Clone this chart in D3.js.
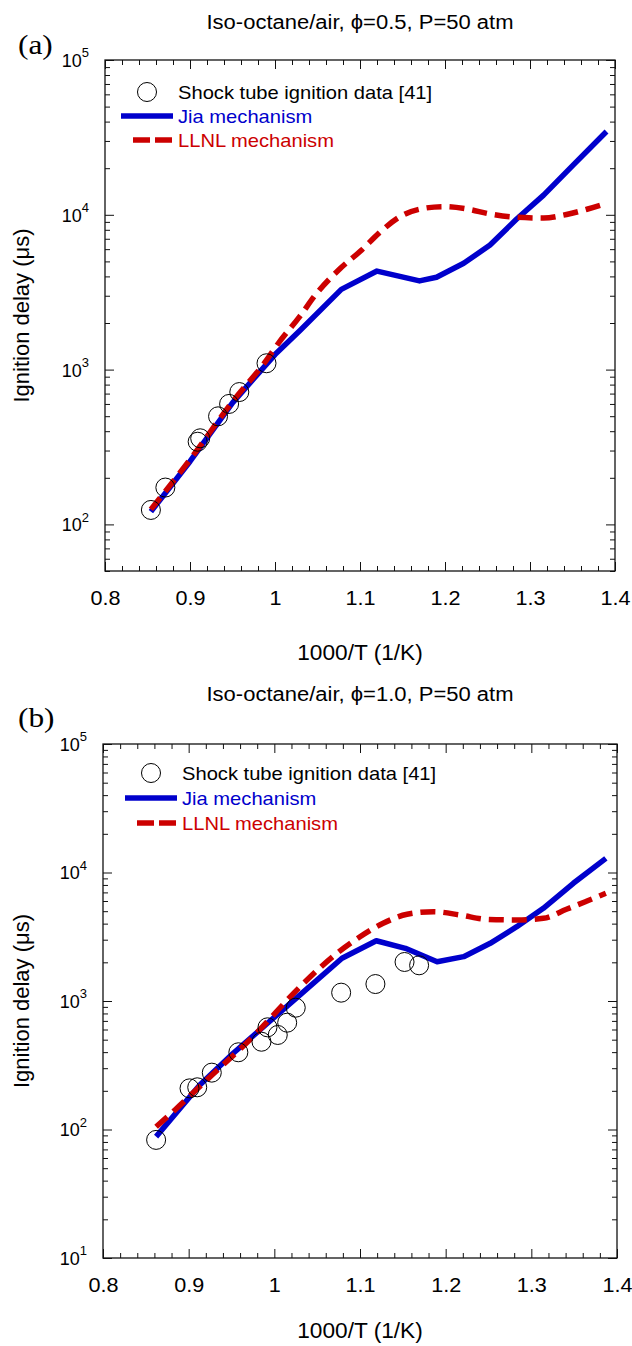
<!DOCTYPE html>
<html>
<head>
<meta charset="utf-8">
<script src="https://cdn.jsdelivr.net/npm/d3@7"></script>
<style>
  html, body { margin: 0; padding: 0; background: #fff; }
  svg { display: block; }
  text { font-family: "Liberation Sans", Arial, sans-serif; }
</style>
</head>
<body>
<script>
// ---------------- DATA ----------------
const xTickValues = [0.8, 0.9, 1.0, 1.1, 1.2, 1.3, 1.4];
const xTickLabels = ["0.8", "0.9", "1", "1.1", "1.2", "1.3", "1.4"];
const xTitle = "1000/T (1/K)";
const yTitle = "Ignition delay (\u03bcs)";
const legendLabels = ["Shock tube ignition data [41]", "Jia mechanism", "LLNL mechanism"];

// Panel (a): phi = 0.5
const aTitle = "Iso-octane/air, \u03d5=0.5, P=50 atm";
const aTag = "(a)";
const aYTicks = [1e2, 1e3, 1e4, 1e5];
const aYTickExps = ["2", "3", "4", "5"];
const aExpX = [0.854, 0.871, 0.909, 0.912, 0.933, 0.946, 0.958, 0.990];
const aExpY = [124, 173, 342, 360, 499, 600, 716, 1099];
const aJiaX = [0.854, 0.900, 0.950, 1.000, 1.030, 1.078, 1.120, 1.170, 1.190, 1.222, 1.253, 1.284, 1.316, 1.351, 1.390];
const aJiaY = [121, 255, 610, 1250, 1800, 3300, 4330, 3740, 3950, 4860, 6380, 9350, 13400, 21000, 34500];
const aLlnlX = [0.854, 0.900, 0.950, 0.990, 1.004, 1.029, 1.049, 1.077, 1.102, 1.122, 1.147, 1.171, 1.198, 1.226, 1.253, 1.284, 1.316, 1.343, 1.367, 1.390];
const aLlnlY = [125, 262, 620, 1150, 1480, 2200, 3110, 4510, 5930, 7590, 9720, 10900, 11290, 10900, 10120, 9640, 9530, 10040, 10860, 11860];

// Panel (b): phi = 1.0
const bTitle = "Iso-octane/air, \u03d5=1.0, P=50 atm";
const bTag = "(b)";
const bYTicks = [1e1, 1e2, 1e3, 1e4, 1e5];
const bYTickExps = ["1", "2", "3", "4", "5"];
const bExpX = [0.862, 0.901, 0.910, 0.927, 0.958, 0.985, 0.992, 1.004, 1.015, 1.025, 1.078, 1.118, 1.152, 1.169];
const bExpY = [83, 209, 213, 277, 399, 482, 624, 544, 678, 887, 1161, 1355, 2012, 1896];
const bJiaX = [0.862, 0.913, 0.952, 0.991, 1.030, 1.079, 1.119, 1.153, 1.190, 1.221, 1.252, 1.283, 1.314, 1.349, 1.387];
const bJiaY = [88, 222, 392, 662, 1117, 2150, 2945, 2570, 2020, 2213, 2812, 3787, 5265, 8240, 12890];
const bLlnlX = [0.862, 0.884, 0.921, 0.975, 1.030, 1.042, 1.073, 1.100, 1.127, 1.155, 1.186, 1.217, 1.248, 1.283, 1.314, 1.341, 1.365, 1.387];
const bLlnlY = [105, 142, 243, 527, 1291, 1545, 2350, 3162, 4025, 4730, 4955, 4670, 4320, 4270, 4400, 5170, 6000, 6890];

// ---------------- DRAWING ----------------
const W = 632, H = 1346;
const BLUE = "#0000cc", RED = "#cc0000", INK = "#111";
const svg = d3.select("body").append("svg").attr("width", W).attr("height", H);

// widen glyphs horizontally (the reference typeface runs wider than Liberation Sans)
function stretch(sel, f) {
  sel.each(function () {
    const w = this.getComputedTextLength();
    if (w > 0) d3.select(this).attr("textLength", w * f).attr("lengthAdjust", "spacingAndGlyphs");
  });
  return sel;
}

function drawPanel(p) {
  const x = d3.scaleLinear().domain([0.8, 1.4]).range([p.L, p.R]);
  const y = d3.scaleLog().domain(p.yDomain).range([p.B, p.T]);
  const g = svg.append("g");

  const xMinor = d3.range(0, 31).map(i => +(0.8 + i * 0.02).toFixed(2)).filter(v => !xTickValues.some(t => Math.abs(t - v) < 1e-6));
  const yMinor = [];
  const lo = Math.floor(Math.log10(p.yDomain[0])), hi = Math.ceil(Math.log10(p.yDomain[1]));
  for (let e = lo; e < hi; e++) for (let m = 2; m <= 9; m++) {
    const v = m * Math.pow(10, e);
    if (v >= p.yDomain[0] && v <= p.yDomain[1]) yMinor.push(v);
  }

  const style = sel => { sel.select(".domain").remove(); sel.selectAll("line").attr("stroke", INK).attr("stroke-width", 1); };

  // bottom
  const xb = g.append("g").attr("transform", `translate(0,${p.B})`)
    .call(d3.axisBottom(x).tickValues(xTickValues).tickSize(-9).tickPadding(20).tickFormat((d, i) => xTickLabels[i]))
    .call(style);
  stretch(xb.selectAll("text").attr("font-size", 20).attr("fill", "#000").attr("font-family", "Liberation Sans, Arial, sans-serif"), 1.08);
  g.append("g").attr("transform", `translate(0,${p.B})`)
    .call(d3.axisBottom(x).tickValues(xMinor).tickSize(-5).tickFormat("")).call(style);
  // top
  g.append("g").attr("transform", `translate(0,${p.T})`)
    .call(d3.axisTop(x).tickValues(xTickValues).tickSize(-9).tickFormat("")).call(style);
  g.append("g").attr("transform", `translate(0,${p.T})`)
    .call(d3.axisTop(x).tickValues(xMinor).tickSize(-5).tickFormat("")).call(style);
  // left
  g.append("g").attr("transform", `translate(${p.L},0)`)
    .call(d3.axisLeft(y).tickValues(p.yTicks).tickSize(-9).tickPadding(16).tickFormat(""))
    .call(style)
    .call(s => s.selectAll(".tick text").each(function (d, i) {
      const t = d3.select(this).attr("font-size", 18).attr("fill", "#000").attr("dy", "0.36em").attr("font-family", "Liberation Sans, Arial, sans-serif");
      t.text(null);
      t.append("tspan").text("10");
      t.append("tspan").attr("font-size", 13).attr("dy", "-0.75em").text(p.yExps[i]);
    }));
  g.append("g").attr("transform", `translate(${p.L},0)`)
    .call(d3.axisLeft(y).tickValues(yMinor).tickSize(-5).tickFormat("")).call(style);
  // right
  g.append("g").attr("transform", `translate(${p.R},0)`)
    .call(d3.axisRight(y).tickValues(p.yTicks).tickSize(-9).tickFormat("")).call(style);
  g.append("g").attr("transform", `translate(${p.R},0)`)
    .call(d3.axisRight(y).tickValues(yMinor).tickSize(-5).tickFormat("")).call(style);

  // frame
  g.append("rect").attr("x", p.L).attr("y", p.T).attr("width", p.R - p.L).attr("height", p.B - p.T)
    .attr("fill", "none").attr("stroke", INK).attr("stroke-width", 1.3);

  // lines
  const line = d3.line().x(d => x(d[0])).y(d => y(d[1]));
  g.append("path").datum(d3.zip(p.jiaX, p.jiaY)).attr("d", line)
    .attr("fill", "none").attr("stroke", BLUE).attr("stroke-width", 5.5).attr("stroke-linejoin", "round");
  g.append("path").datum(d3.zip(p.llnlX, p.llnlY)).attr("d", line.curve(d3.curveMonotoneX))
    .attr("fill", "none").attr("stroke", RED).attr("stroke-width", 5.5).attr("stroke-dasharray", "15,8");

  // experimental points
  g.append("g").selectAll("circle").data(d3.zip(p.expX, p.expY)).join("circle")
    .attr("cx", d => x(d[0])).attr("cy", d => y(d[1])).attr("r", 9.5)
    .attr("fill", "none").attr("stroke", "#000").attr("stroke-width", 1);

  // legend
  const lg = g.append("g").attr("transform", `translate(${p.L},${p.T})`);
  const lx = p.lgX, ly = p.lgY, dy = p.lgDy;
  lg.append("circle").attr("cx", lx + 42).attr("cy", ly).attr("r", 9.5).attr("fill", "none").attr("stroke", "#000").attr("stroke-width", 1);
  lg.append("line").attr("x1", lx + 16).attr("x2", lx + 68).attr("y1", ly + dy).attr("y2", ly + dy)
    .attr("stroke", BLUE).attr("stroke-width", 5.5);
  lg.append("line").attr("x1", lx + 28).attr("x2", lx + 67).attr("y1", ly + 2 * dy).attr("y2", ly + 2 * dy)
    .attr("stroke", RED).attr("stroke-width", 5.5).attr("stroke-dasharray", "17,5");
  const colors = ["#000", BLUE, RED];
  legendLabels.forEach((lab, i) => {
    stretch(lg.append("text").attr("x", lx + 73).attr("y", ly + i * dy).attr("dy", "0.35em")
      .attr("font-size", 19).attr("fill", colors[i]).text(lab), 1.06);
  });

  // titles
  stretch(g.append("text").attr("x", (p.L + p.R) / 2).attr("y", p.T + p.titleDy).attr("text-anchor", "middle")
    .attr("font-size", 20).attr("fill", "#000").text(p.title), 1.1);
  stretch(g.append("text").attr("x", 18).attr("y", p.T + p.tagDy).attr("font-size", 28)
    .style("font-family", "'Liberation Serif', 'Times New Roman', serif")
    .attr("fill", "#000").text(p.tag), 1.12);
  g.append("text").attr("transform", `translate(29,${(p.T + p.B) / 2}) rotate(-90)`).attr("text-anchor", "middle")
    .attr("font-size", 22).attr("fill", "#000").text(yTitle);
  stretch(g.append("text").attr("x", (p.L + p.R) / 2).attr("y", p.B + p.xTitleDy).attr("text-anchor", "middle")
    .attr("font-size", 22).attr("fill", "#000").text(xTitle), 1.03);
}

drawPanel({
  L: 105, R: 615, T: 60, B: 571, yDomain: [50, 1e5],
  yTicks: aYTicks, yExps: aYTickExps,
  expX: aExpX, expY: aExpY, jiaX: aJiaX, jiaY: aJiaY, llnlX: aLlnlX, llnlY: aLlnlY,
  title: aTitle, tag: aTag, lgX: 0, lgY: 32, lgDy: 24,
  titleDy: -31, tagDy: -6, xTitleDy: 89
});
drawPanel({
  L: 103, R: 617, T: 744, B: 1258, yDomain: [10, 1e5],
  yTicks: bYTicks, yExps: bYTickExps,
  expX: bExpX, expY: bExpY, jiaX: bJiaX, jiaY: bJiaY, llnlX: bLlnlX, llnlY: bLlnlY,
  title: bTitle, tag: bTag, lgX: 6, lgY: 29, lgDy: 25,
  titleDy: -43, tagDy: -17, xTitleDy: 80
});
</script>
</body>
</html>
